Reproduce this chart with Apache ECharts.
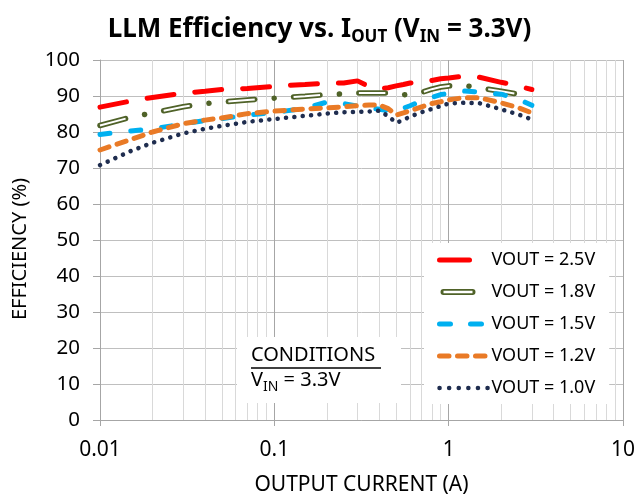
<!DOCTYPE html>
<html>
<head>
<meta charset="utf-8">
<script src="https://cdn.jsdelivr.net/npm/echarts@6/dist/echarts.min.js"></script>
<style>
html, body { margin: 0; padding: 0; background: #fff; }
#main { width: 639px; height: 496px; }
</style>
</head>
<body>
<div id="main"></div>
<script>
// output current (A), shared by all curves
const current = [0.01, 0.015, 0.02, 0.03, 0.04, 0.05, 0.07, 0.1, 0.15, 0.2, 0.25, 0.3, 0.35, 0.4, 0.45,
  0.5, 0.55, 0.6, 0.7, 0.8, 0.9, 1.0, 1.2, 1.5, 2.0, 2.5, 3.0];
// efficiency (%)
const eff25 = [86.9, 88.6, 89.6, 90.8, 91.3, 91.8, 92.1, 92.7, 93.2, 93.6, 93.6, 94.2, 92.6, 91.9, 92.3,
  92.8, 93.2, 93.6, 94.0, 94.3, 94.8, 95.0, 95.5, 95.2, 93.8, 92.8, 91.8];
const eff18 = [81.8, 84.1, 85.3, 87.0, 87.9, 88.3, 88.9, 89.4, 89.9, 90.4, 90.6, 90.8, 90.8, 90.8, 90.8,
  90.6, 90.3, 90.5, 91.0, 91.9, 92.5, 92.8, 93.0, 92.3, 91.3, 90.5, 89.8];
const eff15 = [79.3, 80.3, 80.9, 82.2, 83.2, 83.7, 84.7, 85.4, 86.6, 88.3, 87.9, 87.2, 86.7, 86.3, 85.9,
  85.4, 86.6, 87.3, 88.6, 89.6, 90.4, 90.7, 91.4, 91.1, 90.5, 89.2, 87.4];
const eff12 = [75.0, 77.9, 80.0, 82.3, 83.3, 83.9, 85.1, 85.8, 86.4, 86.7, 87.0, 87.3, 87.5, 87.5, 86.5,
  84.7, 85.3, 85.9, 87.0, 87.9, 88.4, 88.9, 89.5, 89.5, 88.1, 86.8, 85.3];
const eff10 = [70.8, 74.7, 77.0, 79.6, 80.9, 81.7, 82.8, 83.6, 84.5, 85.1, 85.5, 85.6, 85.7, 85.9, 84.4,
  82.6, 83.3, 84.3, 85.5, 86.4, 87.2, 87.9, 88.1, 88.0, 86.3, 84.9, 83.5];

const names = ["VOUT = 2.5V", "VOUT = 1.8V", "VOUT = 1.5V", "VOUT = 1.2V", "VOUT = 1.0V"];
// minor log grid lines
const minorX = [0.02, 0.03, 0.04, 0.05, 0.06, 0.07, 0.08, 0.09,
  0.2, 0.3, 0.4, 0.5, 0.6, 0.7, 0.8, 0.9,
  2, 3, 4, 5, 6, 7, 8, 9];

const FONT = "Noto Sans";
const pts = (vals) => current.map((x, i) => [x, vals[i]]);

function curve(name, vals, color, width, dash, cap) {
  return {
    name: name,
    type: "line",
    data: pts(vals),
    symbol: "none",
    lineStyle: { color: color, width: width, type: dash, cap: cap || "round" },
    itemStyle: { color: color }
  };
}

let option = {
  animation: false,
  title: {
    left: "center",
    top: 9,
    text: "{b|LLM Efficiency vs. I}{s|OUT}{b| (V}{s|IN}{b| = 3.3V)}",
    textStyle: {
      rich: {
        b: { fontFamily: FONT, fontSize: 26, fontWeight: "bold", color: "#000", lineHeight: 32 },
        s: { fontFamily: FONT, fontSize: 17, fontWeight: "bold", color: "#000", lineHeight: 14, verticalAlign: "bottom" }
      }
    }
  },
  grid: { left: 100, right: 16, top: 60, bottom: 76, outerBoundsMode: "none" },
  legend: {
    orient: "vertical",
    left: 424,
    top: 243,
    padding: [7, 14, 6, 13],
    backgroundColor: "#fff",
    itemWidth: 50,
    itemHeight: 10,
    itemGap: 12,
    itemStyle: { opacity: 0 },
    lineStyle: { width: 5 },
    textStyle: { fontFamily: FONT, fontSize: 18, color: "#000", lineHeight: 20, padding: [0, 0, 0, -3] },
    data: [
      { name: names[0], lineStyle: { type: [30, 40] } },
      {
        name: names[1],
        icon: "path://M0,0 L0,0 Z M50,10 L50,10 Z M4,2 H33 A3,3 0 0 1 33,8 H4 A3,3 0 0 1 4,2 Z M4,3.8 V6.2 H33 V3.8 Z",
        itemStyle: { opacity: 1, color: "#4f6228", borderWidth: 0 }
      },
      { name: names[2], lineStyle: { type: [11, 20] } },
      { name: names[3], lineStyle: { type: [9.5, 8.5] } },
      { name: names[4], lineStyle: { type: [0.1, 9.5], width: 4.5 } }
    ]
  },
  xAxis: {
    type: "log",
    logBase: 10,
    min: 0.01,
    max: 10,
    name: "OUTPUT CURRENT (A)",
    nameLocation: "middle",
    nameGap: 55,
    nameTextStyle: { fontFamily: FONT, fontSize: 21, color: "#000" },
    axisLine: { lineStyle: { color: "#a6a6a6", width: 1 } },
    axisTick: { show: true, length: 6, lineStyle: { color: "#a6a6a6" } },
    axisLabel: { fontFamily: FONT, fontSize: 21, color: "#000", margin: 20 },
    splitLine: { show: true, lineStyle: { color: "#a6a6a6", width: 1 } }
  },
  yAxis: {
    type: "value",
    min: 0,
    max: 100,
    interval: 10,
    name: "EFFICIENCY (%)",
    nameLocation: "middle",
    nameGap: 70,
    nameTextStyle: { fontFamily: FONT, fontSize: 20, color: "#000", padding: [0, 18, 0, 0] },
    axisLine: { show: true, lineStyle: { color: "#a6a6a6", width: 1 } },
    axisTick: { show: true, length: 7, lineStyle: { color: "#a6a6a6" } },
    axisLabel: { fontFamily: FONT, fontSize: 20.5, color: "#000", margin: 20 },
    splitLine: { show: true, lineStyle: { color: "#bfbfbf", width: 1 } }
  },
  graphic: [
    { type: "rect", left: 237, top: 337, z: 10, silent: true, shape: { width: 164, height: 66 }, style: { fill: "#fff" } },
    { type: "text", left: 251, top: 345, z: 11, style: { text: "CONDITIONS", font: "20px 'Noto Sans'", fill: "#000" } },
    { type: "line", z: 11, shape: { x1: 251, y1: 368, x2: 381, y2: 368 }, style: { stroke: "#000", lineWidth: 1.3 } },
    {
      type: "text", left: 251, top: 370, z: 11,
      style: {
        text: "{a|V}{s|IN}{a| = 3.3V}",
        rich: {
          a: { fontFamily: FONT, fontSize: 20, fill: "#000", lineHeight: 28 },
          s: { fontFamily: FONT, fontSize: 14, fill: "#000", lineHeight: 12, verticalAlign: "bottom" }
        }
      }
    }
  ],
  series: [
    {
      name: "minor grid",
      type: "line",
      data: [],
      silent: true,
      markLine: {
        silent: true,
        z: 1,
        symbol: "none",
        label: { show: false },
        lineStyle: { color: "#d9d9d9", width: 1, type: "solid" },
        data: minorX.map((v) => ({ xAxis: v }))
      }
    },
    curve(names[0], eff25, "#ff0000", 5, [27, 21]),
    curve(names[1], eff18, "#4f6228", 5.5, [26.5, 19.4, 0.1, 19.4]),
    Object.assign(curve("inner 1.8V", eff18, "#ffffff", 2, [26.5, 38.9], "butt"), { silent: true }),
    curve(names[2], eff15, "#00b0f0", 5, [10, 21]),
    curve(names[3], eff12, "#e97a26", 5, [9.5, 8.5]),
    curve(names[4], eff10, "#1f2d4f", 4.5, [0.1, 8.3])
  ]
};

let chartDom = document.getElementById("main");
let myChart = echarts.init(chartDom);
myChart.setOption(option);
</script>
</body>
</html>
